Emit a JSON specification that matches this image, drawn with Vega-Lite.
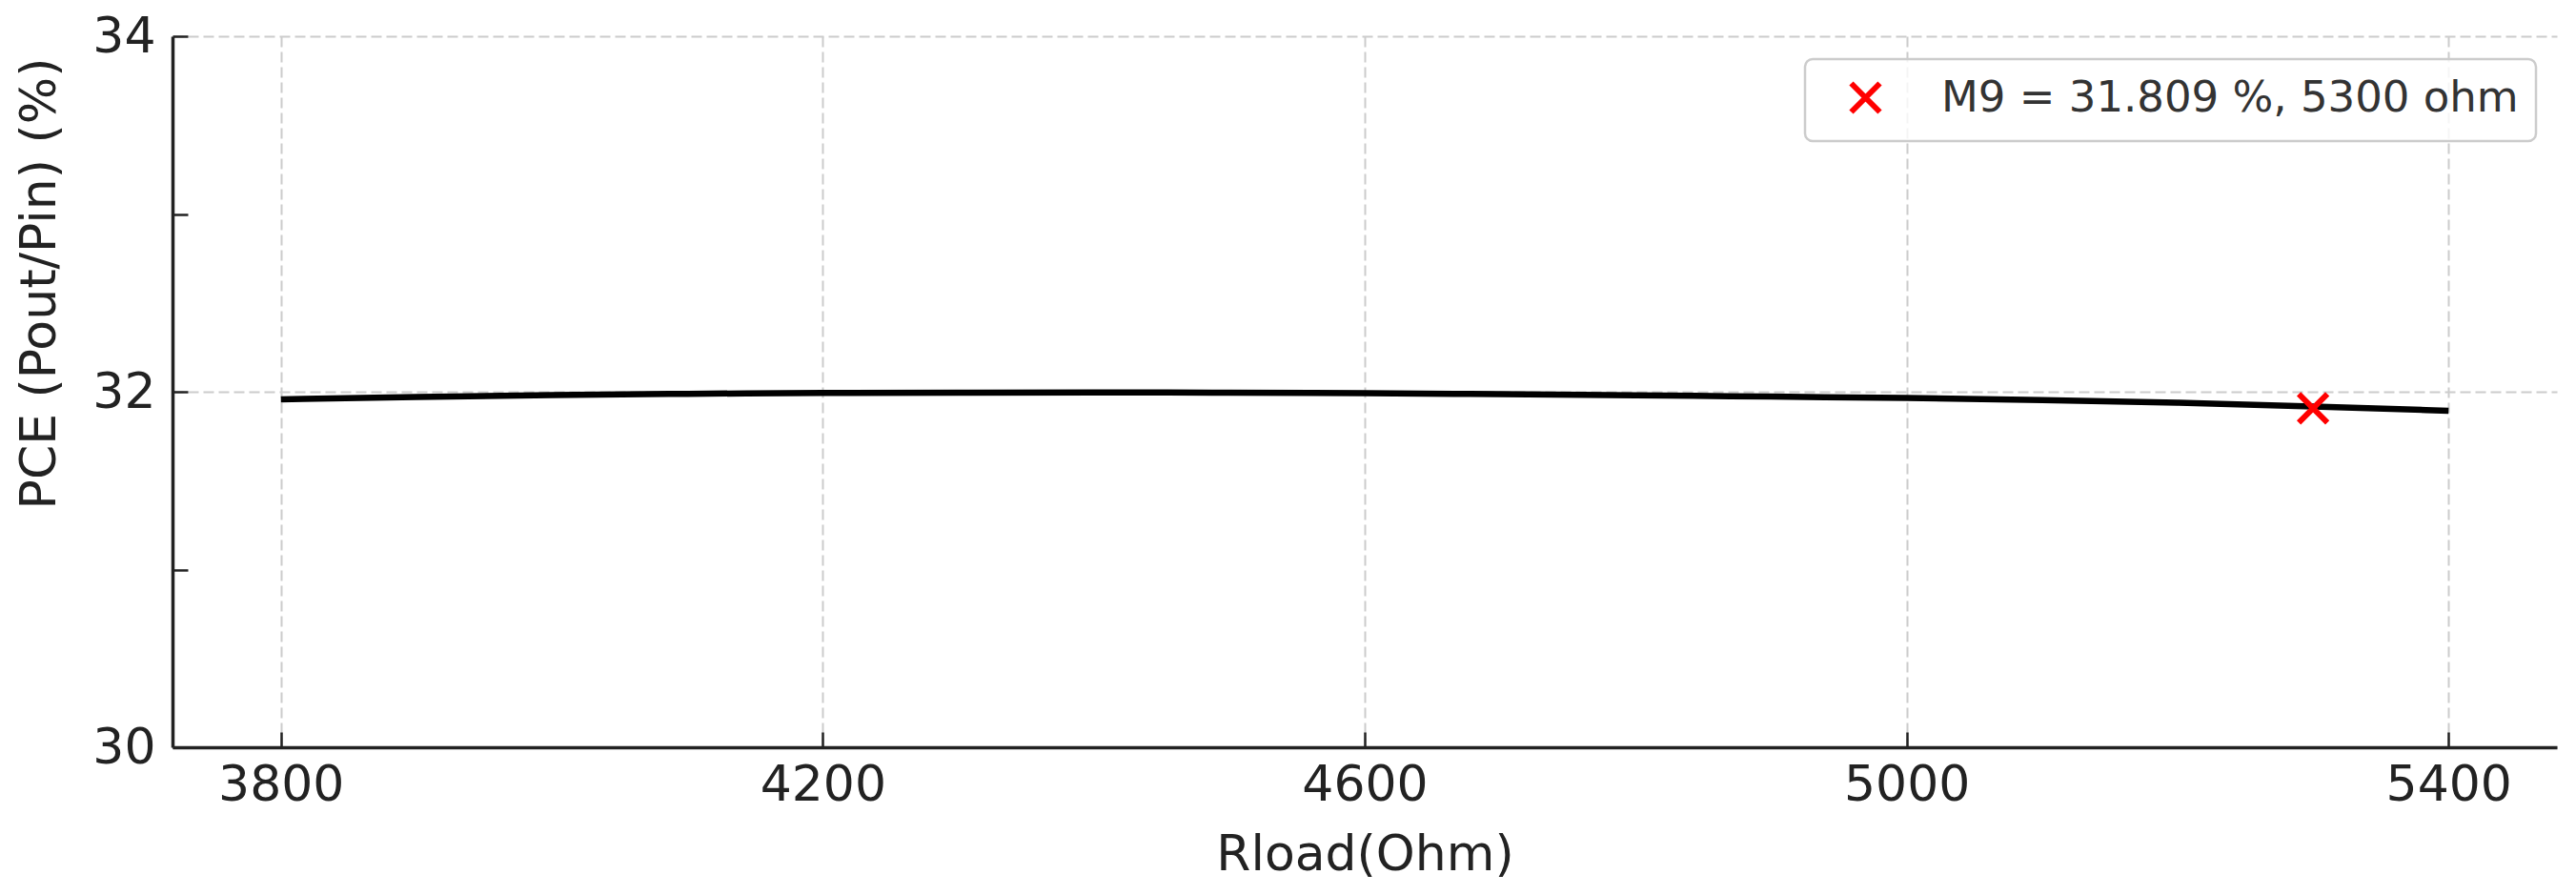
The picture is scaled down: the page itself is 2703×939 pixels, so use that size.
{
  "$schema": "https://vega.github.io/schema/vega-lite/v6.json",
  "width": 2502,
  "height": 746,
  "autosize": {"type": "none"},
  "padding": {"left": 181, "top": 38, "right": 20, "bottom": 155},
  "background": "white",
  "config": {
    "view": {"stroke": null},
    "font": "DejaVu Sans",
    "axis": {
      "labelFont": "DejaVu Sans",
      "titleFont": "DejaVu Sans",
      "labelFontSize": 52,
      "titleFontSize": 52,
      "titleFontWeight": "normal",
      "labelColor": "#222222",
      "titleColor": "#222222",
      "domainColor": "#222222",
      "domainWidth": 3.5,
      "tickColor": "#222222",
      "tickWidth": 2.5,
      "tickSize": -16,
      "gridColor": "#cccccc",
      "gridDash": [11, 5],
      "gridWidth": 2
    },
    "legend": {
      "labelFont": "DejaVu Sans",
      "labelFontSize": 45,
      "labelColor": "#333333",
      "labelLimit": 2000,
      "strokeWidth": 2.5
    }
  },
  "datasets": {
    "curve": [
      {"r": 3800, "pce": 31.957},
      {"r": 3900, "pce": 31.971},
      {"r": 4000, "pce": 31.982},
      {"r": 4100, "pce": 31.989},
      {"r": 4200, "pce": 31.993},
      {"r": 4300, "pce": 31.995},
      {"r": 4400, "pce": 31.996},
      {"r": 4500, "pce": 31.995},
      {"r": 4600, "pce": 31.992},
      {"r": 4700, "pce": 31.987},
      {"r": 4800, "pce": 31.980},
      {"r": 4900, "pce": 31.973},
      {"r": 5000, "pce": 31.965},
      {"r": 5100, "pce": 31.954},
      {"r": 5200, "pce": 31.940},
      {"r": 5300, "pce": 31.917},
      {"r": 5400, "pce": 31.893}
    ],
    "marker": [
      {"r": 5300, "pce": 31.907, "label": "M9 = 31.809 %, 5300 ohm"}
    ]
  },
  "layer": [
    {
      "data": {"name": "curve"},
      "mark": {"type": "line", "color": "black", "strokeWidth": 6.5, "interpolate": "basis"},
      "encoding": {
        "x": {
          "field": "r", "type": "quantitative",
          "scale": {"domain": [3720, 5480], "nice": false, "zero": false},
          "axis": {
            "title": "Rload(Ohm)",
            "format": "d",
            "values": [3800, 4200, 4600, 5000, 5400],
            "labelPadding": 30,
            "titlePadding": 22,
            "grid": true
          }
        },
        "y": {
          "field": "pce", "type": "quantitative",
          "scale": {"domain": [30, 34], "nice": false, "zero": false},
          "axis": {
            "title": "PCE (Pout/Pin) (%)",
            "format": "d",
            "values": [30, 31, 32, 33, 34],
            "labelExpr": "datum.value % 2 == 0 ? datum.label : ''",
            "labelPadding": 34,
            "titlePadding": 28,
            "titleY": 259,
            "grid": true,
            "gridOpacity": {"condition": {"test": "datum.value % 2 == 1", "value": 0}, "value": 1}
          }
        }
      }
    },
    {
      "data": {"name": "marker"},
      "mark": {"type": "point", "filled": false, "strokeWidth": 6, "size": 900, "opacity": 1},
      "encoding": {
        "x": {"field": "r", "type": "quantitative"},
        "y": {"field": "pce", "type": "quantitative"},
        "color": {
          "field": "label", "type": "nominal",
          "scale": {"range": ["red"]},
          "legend": {
            "title": null,
            "orient": "none",
            "legendX": 1713,
            "legendY": 24,
            "padding": 18,
            "cornerRadius": 8,
            "fillColor": "rgba(255,255,255,0.8)",
            "strokeColor": "#cccccc",
            "symbolSize": 900,
            "symbolStrokeWidth": 6,
            "symbolOffset": 23,
            "labelOffset": 57
          }
        },
        "shape": {
          "field": "label", "type": "nominal",
          "scale": {"range": ["M-1,-1L1,1M1,-1L-1,1"]}
        }
      }
    }
  ]
}
